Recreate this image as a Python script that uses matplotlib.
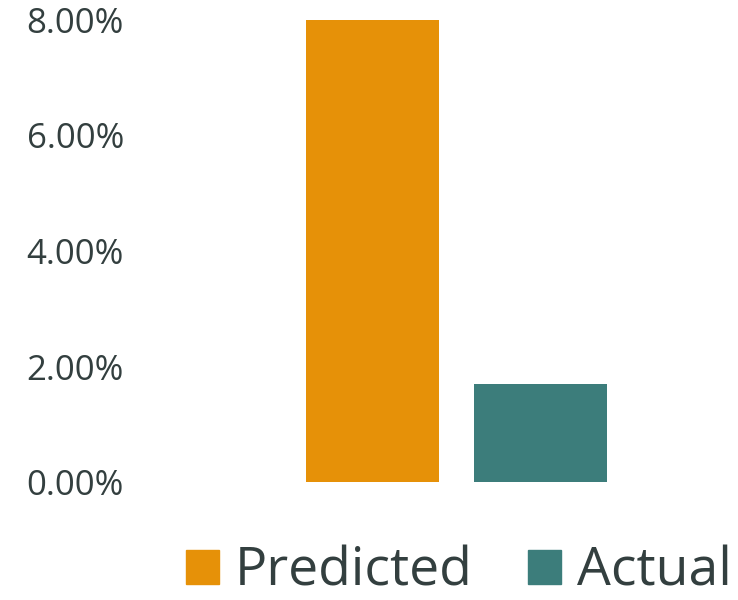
import matplotlib.pyplot as plt
from matplotlib.ticker import PercentFormatter

series = ['Predicted', 'Actual']
values = [0.080, 0.017]
colors = ['#E69108', '#3C7D7B']
yticks = [0.0, 0.02, 0.04, 0.06, 0.08]

TEXT = '#333F3F'
plt.rcParams['font.family'] = ['Open Sans', 'DejaVu Sans']

fig = plt.figure(figsize=(7.38, 6.0), dpi=100)
ax = fig.add_axes([140 / 738, 118 / 600, (738 - 140) / 738, 462 / 600])

# two bars side by side in a single category group
xs = [-0.5, 0.5]
ax.bar(xs, values, width=133 / 168, color=colors, linewidth=0)

ax.set_xlim((140 - 456.5) / 168, (738 - 456.5) / 168)
ax.set_ylim(0, 0.08)
ax.set_yticks(yticks)
ax.yaxis.set_major_formatter(PercentFormatter(1.0, decimals=2))
ax.tick_params(axis='y', length=0, pad=11.5, labelsize=25, labelcolor=TEXT)
ax.set_xticks([])
for s in ax.spines.values():
    s.set_visible(False)

# legend sits low like the reference, kept just inside the bottom edge
handles = [plt.Rectangle((0, 0), 1, 1, color=c) for c in colors]
fig.legend(handles, series, loc='lower center', bbox_to_anchor=(459 / 738, 0.002),
           ncol=2, frameon=False, fontsize=38.5, labelcolor=TEXT,
           handlelength=0.62, handleheight=0.62, handletextpad=0.3,
           columnspacing=1.04, borderpad=0, borderaxespad=0)

fig.savefig('out.png', dpi=100)
